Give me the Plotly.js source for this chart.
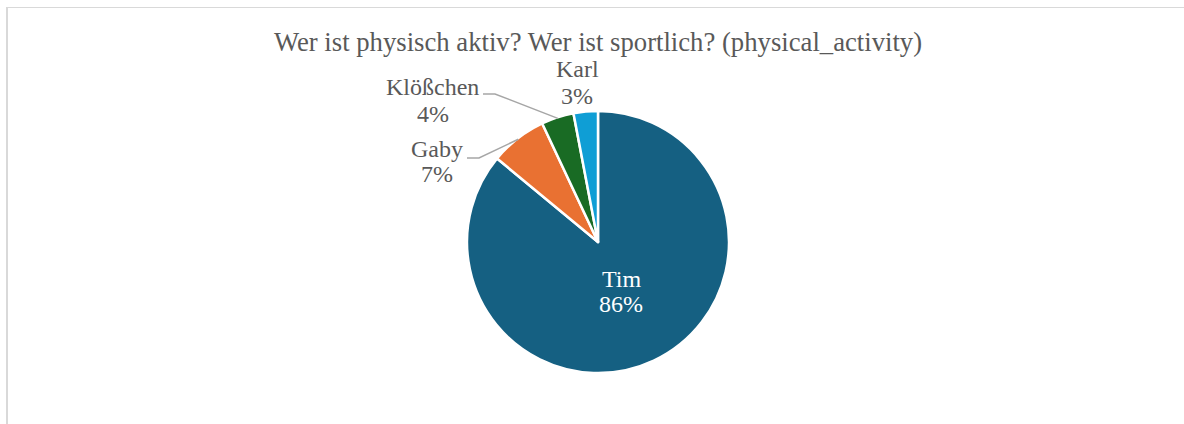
<!DOCTYPE html>
<html>
<head>
<meta charset="utf-8">
<script src="https://cdn.plot.ly/plotly-3.0.1.min.js"></script>
<style>
html,body{margin:0;padding:0;background:#fff;overflow:hidden;}
#frame{position:absolute;left:6px;top:7px;width:1300px;height:500px;border-left:2px solid #d9d9d9;border-top:1px solid #d9d9d9;}
#chart{position:absolute;left:0;top:0;width:1184px;height:424px;}
</style>
</head>
<body>
<div id="frame"></div>
<div id="chart"></div>
<script>
// ---- data ----
const labels = ["Tim", "Gaby", "Klößchen", "Karl"];
const values = [86, 7, 4, 3];
const colors = ["#156082", "#E97132", "#196B24", "#0F9ED5"];
const titleText = "Wer ist physisch aktiv? Wer ist sportlich? (physical_activity)";

// ---- layout settings (pixels) ----
const W = 1184, H = 424;
const CX = 598, CY = 242, R = 131;
const FONT = "Liberation Serif, Times New Roman, serif";
const LABEL_SIZE = 24;
// label placement: inside labels are placed on the slice's mid angle,
// outside labels sit at fixed spots with an elbow leader line to the slice.
const labelStyle = [
  {mode: "inside", rFrac: 0.42, lineGap: 25},
  {mode: "outside", x: 437, y: 149, lineGap: 25, lead: {x0: 467, y0: 158, x1: 479}},
  {mode: "outside", x: 432.5, y: 87, lineGap: 27, lead: {x0: 483, y0: 94, x1: 495}},
  {mode: "outside", x: 577, y: 69, lineGap: 27, lead: null}
];

const px = x => x / W;
const py = y => 1 - y / H;

const total = values.reduce((a, b) => a + b, 0);
const annotations = [];
const shapes = [];
let cum = 0;
values.forEach((v, i) => {
  const frac = v / total;
  const mid = (cum + frac / 2) * 2 * Math.PI; // clockwise from 12 o'clock
  cum += frac;
  const pctText = Math.round(frac * 100) + "%";
  const st = labelStyle[i];
  let lx, ly, color;
  if (st.mode === "inside") {
    lx = CX + Math.sin(mid) * R * st.rFrac;
    ly = CY - Math.cos(mid) * R * st.rFrac;
    ly -= st.lineGap / 2;
    color = "#ffffff";
  } else {
    lx = st.x; ly = st.y; color = "#595959";
    if (st.lead) {
      const tx = CX + Math.sin(mid) * (R - 1);
      const ty = CY - Math.cos(mid) * (R - 1);
      shapes.push({
        type: "path", xref: "paper", yref: "paper",
        path: `M ${px(st.lead.x0)} ${py(st.lead.y0)} L ${px(st.lead.x1)} ${py(st.lead.y0)} L ${px(tx)} ${py(ty)}`,
        line: {color: "#a6a6a6", width: 1.5}
      });
    }
  }
  [labels[i], pctText].forEach((t, k) => {
    annotations.push({
      text: t, xref: "paper", yref: "paper",
      x: px(lx), y: py(ly + k * st.lineGap),
      xanchor: "center", yanchor: "middle", showarrow: false,
      font: {family: FONT, size: LABEL_SIZE, color: color}
    });
  });
});

const trace = {
  type: "pie",
  labels: labels,
  values: values,
  sort: false,
  direction: "clockwise",
  rotation: 0,
  marker: {colors: colors, line: {color: "#ffffff", width: 2.5}},
  textinfo: "none",
  hoverinfo: "label+percent",
  showlegend: false,
  domain: {x: [px(CX - R), px(CX + R)], y: [py(CY + R), py(CY - R)]}
};

const layout = {
  width: W,
  height: H,
  paper_bgcolor: "rgba(0,0,0,0)",
  plot_bgcolor: "rgba(0,0,0,0)",
  margin: {l: 0, r: 0, t: 0, b: 0},
  title: {
    text: titleText,
    font: {family: FONT, size: 26.7, color: "#595959"},
    x: px(598), xref: "paper", xanchor: "center", y: py(42), yref: "container", yanchor: "middle"
  },
  annotations: annotations,
  shapes: shapes,
  showlegend: false
};

Plotly.newPlot("chart", [trace], layout, {displayModeBar: false, staticPlot: true});
</script>
</body>
</html>
